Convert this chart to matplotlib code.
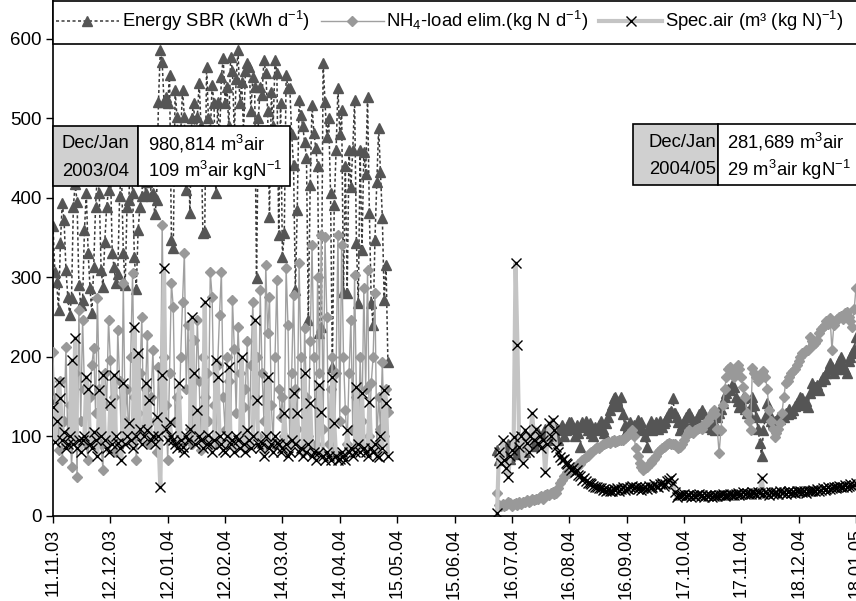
import numpy as np
import matplotlib
matplotlib.use('Agg')
import matplotlib.pyplot as plt
from matplotlib.patches import Rectangle

plt.rcParams['font.family'] = ['Liberation Sans', 'DejaVu Sans']
plt.rcParams['mathtext.fontset'] = 'custom'
plt.rcParams['mathtext.rm'] = 'Liberation Sans'
plt.rcParams['mathtext.it'] = 'Liberation Sans:italic'

start_date = np.datetime64('2003-11-11')
period1_start = np.datetime64('2003-11-11')
period2_start = np.datetime64('2004-07-08')

tick_labels = ['11.11.03', '12.12.03', '12.01.04', '12.02.04', '14.03.04', '14.04.04',
               '15.05.04', '15.06.04', '16.07.04', '16.08.04', '16.09.04', '17.10.04',
               '17.11.04', '18.12.04', '18.01.05']

# daily values, first campaign (11.11.03 - 11.05.04)
energy_1 = [365, 307, 294, 259, 343, 394, 372, 310, 276, 253,
            274, 389, 418, 395, 291, 265, 272, 360, 406, 331,
            287, 255, 313, 389, 432, 406, 310, 288, 345, 389,
            410, 445, 331, 313, 293, 305, 402, 436, 331, 291,
            389, 397, 468, 406, 326, 285, 360, 389, 402, 450,
            406, 420, 475, 402, 406, 380, 397, 521, 586, 571,
            521, 527, 520, 555, 347, 337, 536, 502, 460, 480,
            536, 502, 410, 470, 381, 500, 520, 470, 502, 545,
            490, 356, 357, 565, 500, 480, 542, 520, 406, 521,
            470, 552, 576, 520, 540, 490, 577, 560, 480, 550,
            586, 520, 546, 480, 560, 570, 565, 510, 552, 540,
            299, 500, 540, 530, 574, 557, 510, 376, 533, 490,
            574, 557, 353, 520, 326, 356, 555, 538, 538, 480,
            441, 284, 385, 523, 504, 490, 470, 450, 247, 416,
            517, 482, 463, 440, 230, 238, 570, 521, 477, 501,
            406, 187, 391, 460, 538, 480, 511, 282, 440, 281,
            460, 414, 460, 523, 343, 268, 460, 335, 458, 430,
            527, 381, 268, 240, 347, 420, 488, 433, 375, 272,
            316, 194]
nh4_1 = [206, 117, 150, 83, 170, 70, 120, 213, 90, 140,
         62, 110, 180, 49, 259, 120, 247, 160, 90, 70,
         150, 190, 211, 130, 274, 160, 90, 58, 180, 140,
         247, 196, 100, 150, 80, 234, 170, 90, 293, 120,
         160, 95, 200, 306, 150, 70, 130, 180, 250, 110,
         160, 228, 90, 150, 209, 120, 80, 187, 110, 366,
         200, 140, 70, 180, 293, 263, 120, 150, 90, 200,
         269, 331, 160, 240, 110, 90, 221, 130, 247, 170,
         83, 200, 150, 180, 120, 307, 276, 140, 90, 190,
         253, 307, 150, 108, 200, 170, 90, 272, 210, 130,
         238, 180, 100, 137, 160, 220, 90, 190, 269, 150,
         200, 100, 284, 180, 120, 316, 230, 276, 140, 90,
         200, 297, 160, 125, 150, 100, 312, 240, 90, 180,
         278, 160, 110, 318, 200, 80, 236, 150, 100, 220,
         341, 200, 90, 301, 180, 353, 110, 351, 250, 90,
         160, 200, 80, 180, 353, 120, 341, 200, 133, 90,
         180, 247, 110, 303, 150, 90, 200, 120, 287, 160,
         309, 100, 167, 200, 280, 90, 150, 110, 194, 100,
         160, 131]
spec_1 = [137, 93, 120, 168, 149, 95, 106, 85, 90, 100,
          196, 90, 224, 85, 96, 80, 95, 100, 175, 160,
          90, 85, 106, 95, 75, 158, 100, 177, 95, 86,
          80, 142, 90, 177, 100, 92, 85, 70, 167, 90,
          100, 117, 95, 85, 238, 100, 205, 110, 90, 100,
          167, 108, 146, 95, 100, 90, 125, 100, 36, 177,
          312, 110, 95, 118, 100, 96, 90, 85, 167, 95,
          87, 80, 100, 95, 110, 250, 180, 90, 133, 100,
          95, 85, 269, 90, 102, 90, 80, 95, 196, 175,
          100, 90, 83, 80, 100, 187, 90, 96, 80, 100,
          95, 85, 200, 90, 80, 108, 95, 85, 100, 247,
          146, 90, 85, 92, 75, 100, 175, 85, 90, 80,
          100, 92, 90, 80, 85, 130, 90, 75, 80, 95,
          155, 90, 130, 80, 85, 75, 180, 80, 90, 142,
          75, 80, 70, 79, 165, 131, 75, 70, 80, 75,
          70, 175, 117, 75, 70, 72, 80, 75, 70, 108,
          80, 85, 75, 80, 162, 90, 80, 155, 85, 80,
          75, 143, 85, 80, 90, 75, 74, 100, 85, 158,
          142, 75]

# daily values, second campaign (08.07.04 - 18.01.05)
energy_2 = [83, 70, 78, 87, 75, 80, 90, 72, 85, 83,
            95, 78, 88, 92, 85, 80, 90, 96, 100, 95,
            88, 92, 105, 99, 94, 100, 110, 95, 102, 108,
            100, 112, 108, 95, 110, 115, 100, 108, 112, 118,
            118, 110, 100, 115, 105, 87, 118, 112, 120, 108,
            117, 105, 100, 112, 108, 115, 120, 110, 105, 117,
            125, 133, 140, 148, 150, 145, 138, 150, 128, 115,
            108, 112, 118, 105, 115, 110, 121, 112, 118, 108,
            100, 87, 112, 120, 108, 115, 118, 110, 120, 112,
            117, 120, 125, 130, 132, 148, 130, 125, 118, 108,
            115, 120, 125, 128, 130, 125, 120, 115, 122, 128,
            130, 133, 128, 120, 115, 112, 110, 118, 108, 125,
            130, 135, 142, 150, 155, 160, 158, 165, 162, 150,
            145, 137, 140, 148, 135, 130, 130, 138, 150, 140,
            125, 110, 92, 75, 108, 125, 142, 130, 120, 117,
            120, 118, 125, 122, 128, 125, 130, 128, 135, 130,
            133, 138, 142, 145, 150, 148, 140, 145, 137, 155,
            167, 160, 162, 165, 158, 170, 175, 172, 180, 185,
            192, 188, 180, 185, 187, 195, 200, 190, 185, 180,
            195, 200, 205, 210, 225]
nh4_2 = [29, 14, 12, 15, 12, 14, 18, 16, 13, 15,
         16, 14, 18, 15, 17, 18, 20, 17, 19, 22,
         20, 22, 21, 24, 25, 22, 26, 28, 27, 29,
         30, 28, 29, 35, 41, 45, 50, 52, 55, 54,
         56, 58, 60, 62, 65, 66, 70, 72, 74, 76,
         79, 80, 82, 84, 87, 86, 88, 90, 91, 92,
         93, 92, 94, 95, 93, 94, 95, 96, 96, 98,
         100, 102, 105, 108, 100, 85, 75, 67, 62, 58,
         60, 62, 65, 67, 70, 72, 75, 80, 83, 86,
         87, 88, 90, 92, 90, 91, 90, 88, 86, 87,
         90, 95, 100, 105, 108, 106, 104, 108, 110, 111,
         112, 110, 115, 118, 120, 125, 130, 133, 128, 110,
         79, 108, 140, 160, 175, 185, 187, 180, 175, 182,
         190, 185, 175, 162, 150, 130, 120, 108, 186, 180,
         175, 170, 175, 180, 183, 175, 160, 133, 120, 110,
         99, 105, 110, 117, 130, 150, 167, 170, 175, 180,
         183, 185, 190, 195, 200, 205, 205, 209, 209, 225,
         220, 215, 218, 221, 230, 235, 238, 240, 245, 242,
         249, 209, 240, 245, 248, 250, 252, 248, 255, 257,
         250, 245, 238, 260, 287]
spec_2 = [4, 80, 67, 95, 70, 60, 49, 75, 83, 99,
          318, 215, 87, 100, 67, 108, 92, 80, 100, 129,
          96, 110, 92, 100, 85, 95, 55, 90, 117, 100,
          121, 108, 87, 80, 74, 70, 72, 67, 65, 62,
          58, 60, 55, 58, 52, 50, 45, 48, 44, 42,
          41, 40, 38, 37, 36, 35, 35, 33, 34, 32,
          33, 31, 32, 34, 33, 35, 32, 34, 36, 33,
          35, 34, 36, 38, 35, 37, 34, 36, 33, 35,
          36, 34, 38, 35, 37, 40, 38, 36, 40, 42,
          38, 40, 44, 45, 48, 42, 30, 24, 26, 27,
          26, 28, 25, 27, 26, 24, 27, 25, 26, 28,
          25, 26, 24, 26, 25, 27, 24, 25, 26, 25,
          27, 26, 28, 25, 27, 26, 28, 27, 26, 28,
          29, 27, 28, 30, 28, 29, 28, 28, 30, 29,
          28, 30, 29, 48, 28, 30, 29, 27, 30, 28,
          29, 30, 28, 31, 29, 30, 28, 30, 31, 29,
          30, 29, 31, 30, 32, 30, 31, 29, 32, 31,
          32, 33, 31, 34, 32, 33, 35, 33, 34, 36,
          34, 35, 37, 35, 36, 38, 36, 37, 39, 37,
          38, 40, 38, 39, 41]


def day_offsets(first, n):
    dates = first + np.arange(n).astype('timedelta64[D]')
    return (dates - start_date).astype(int)


def label_to_day(lbl):
    d, m, y = lbl.split('.')
    return int((np.datetime64('20%s-%s-%s' % (y, m, d)) - start_date).astype(int))


x1 = day_offsets(period1_start, len(energy_1))
x2 = day_offsets(period2_start, len(energy_2))
tick_pos = [label_to_day(t) for t in tick_labels]

fig = plt.figure(figsize=(8.56, 6.01), dpi=100)
ax = fig.add_axes([53 / 856, 85 / 601, 1 - 53 / 856, 516 / 601])

for xs, en, nh, sp in [(x1, energy_1, nh4_1, spec_1), (x2, energy_2, nh4_2, spec_2)]:
    ax.plot(xs, en, color='#3a3a3a', linestyle=(0, (2, 1.6)), linewidth=1.1,
            marker='^', markersize=7, markerfacecolor='#555555', markeredgecolor='#555555',
            zorder=2)
    ax.plot(xs, nh, color='#a0a0a0', linewidth=1.0,
            marker='D', markersize=5, markerfacecolor='#999999', markeredgecolor='#999999',
            zorder=3)
    ax.plot(xs, sp, color='#c4c4c4', linewidth=3,
            marker='x', markersize=7, markeredgecolor='black', markeredgewidth=1,
            zorder=4)

ax.set_xlim(tick_pos[0], tick_pos[-1])
ax.set_ylim(0, 649)
ax.set_yticks(range(0, 700, 100))
ax.set_xticks(tick_pos)
ax.set_xticklabels(tick_labels, rotation=90, fontsize=13)
ax.tick_params(axis='y', labelsize=13.5, length=5, width=1, direction='out', pad=3)
ax.tick_params(axis='x', length=5, width=1, direction='out', pad=4)
ax.spines['top'].set_visible(False)
ax.spines['right'].set_visible(False)
ax.spines['left'].set_linewidth(1.2)
ax.spines['bottom'].set_linewidth(1.2)

# legend band across the top of the plot
fig.patches.append(Rectangle((53 / 856, 1 - 44 / 601), 1, 43 / 601, transform=fig.transFigure,
                             facecolor='white', edgecolor='black', linewidth=1.2, zorder=5))
handles = ax.get_lines()[:3]
labels = ['Energy SBR (kWh d$^{-1}$)', 'NH$_4$-load elim.(kg N d$^{-1}$)',
          'Spec.air (m\u00b3 (kg N)$^{-1}$)']
leg = fig.legend(handles, labels, loc='center left', bbox_to_anchor=(56 / 856, 1 - 21 / 601),
                 ncol=3, frameon=False, fontsize=13.3, handlelength=3.4, columnspacing=0.6,
                 handletextpad=0.15, borderaxespad=0, borderpad=0)
leg.set_zorder(6)


def info_box(x0, x1b, xr, y0, y1, left_rows, right_rows, text_x, left_align):
    h = (y1 - y0) / 601
    fig.patches.append(Rectangle((x0 / 856, 1 - y1 / 601), (x1b - x0) / 856, h,
                                 transform=fig.transFigure, facecolor='#d0d0d0',
                                 edgecolor='black', linewidth=1.2, zorder=5))
    fig.patches.append(Rectangle((x1b / 856, 1 - y1 / 601), (xr - x1b) / 856, h,
                                 transform=fig.transFigure, facecolor='white',
                                 edgecolor='black', linewidth=1.2, zorder=5))
    ym = [y0 + (y1 - y0) * 0.3, y0 + (y1 - y0) * 0.75]
    for yy, lt, rt in zip(ym, left_rows, right_rows):
        if left_align == 'center':
            fig.text((x0 + x1b) / 2 / 856, 1 - yy / 601, lt, ha='center', va='center',
                     fontsize=13.3, zorder=6)
        else:
            fig.text((x1b - 2) / 856, 1 - yy / 601, lt, ha='right', va='center',
                     fontsize=13.3, zorder=6)
        fig.text(text_x / 856, 1 - yy / 601, rt, ha='left', va='center', fontsize=13.3, zorder=6)


info_box(53, 138, 290, 126, 186, ['Dec/Jan', '2003/04'],
         ['980,814 m$^3$air', '109 m$^3$air kgN$^{-1}$'], 148, 'center')
info_box(633, 718, 858, 124, 185, ['Dec/Jan', '2004/05'],
         ['281,689 m$^3$air', '29 m$^3$air kgN$^{-1}$'], 727, 'right')

fig.savefig('out.png', dpi=100)
